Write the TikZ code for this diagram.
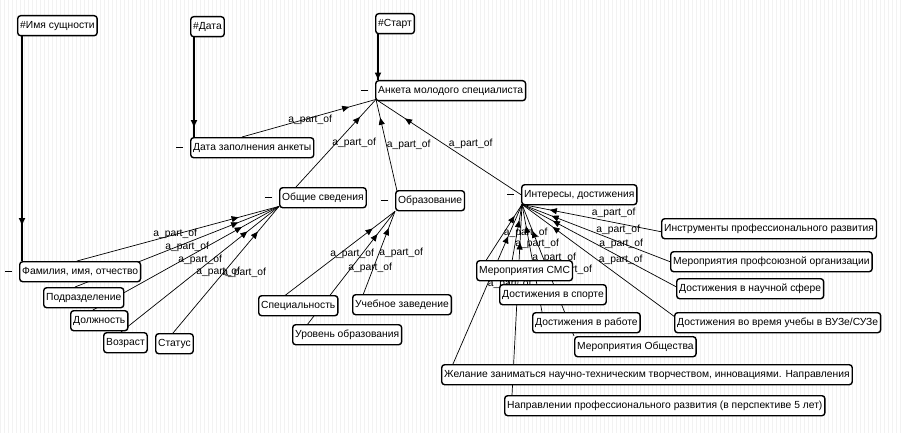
\documentclass[tikz,border=0pt]{standalone}
\usepackage{fontspec}
\setmainfont{Liberation Sans}
\usetikzlibrary{arrows.meta,decorations.markings,backgrounds,calc}

\begin{document}
\begin{tikzpicture}[x=1pt,y=-1pt,
	boite/.style={draw,line width=1.4pt,rounded corners=3pt,fill=white,anchor=north west,
		inner xsep=2.5pt,inner ysep=0pt,minimum height=20pt,font=\fontsize{10.3}{12}\selectfont},
	lien/.style={line width=0.7pt,decoration={markings,mark=at position #1 with {\arrow{Triangle[length=7pt,width=6pt]}}},postaction={decorate}},
	lien/.default=0.8,
	diese/.style={lien=#1,line width=1.6pt},
	lbl/.style={font=\fontsize{10.3}{12}\selectfont,inner sep=0pt,anchor=west,pos=0.5},
	moins/.style={line width=1.4pt}]
	\useasboundingbox (0,0) rectangle (901,433);
	% les noeuds
	\node[boite] (hname) at (17,15) {\#Имя сущности};
	\node[boite] (hdate) at (190,16) {\#Дата};
	\node[boite] (hstart) at (375,13) {\#Старт};
	\node[boite] (anketa) at (375,80) {Анкета молодого специалиста};
	\node[boite] (datazap) at (190,137) {Дата заполнения анкеты};
	\node[boite] (obsh) at (279,187) {Общие сведения};
	\node[boite] (obraz) at (395,190) {Образование};
	\node[boite] (inter) at (521,184) {Интересы, достижения};
	\node[boite] (fio) at (19,261) {Фамилия, имя, отчество};
	\node[boite] (podr) at (43,287) {Подразделение};
	\node[boite] (dolzh) at (70,310) {Должность};
	\node[boite] (vozr) at (103,332) {Возраст};
	\node[boite] (status) at (155,333) {Статус};
	\node[boite] (spec) at (258,295) {Специальность};
	\node[boite] (uchzav) at (352,294) {Учебное заведение};
	\node[boite] (uroven) at (292,324) {Уровень образования};
	\node[boite] (instr) at (661,218) {Инструменты профессионального развития};
	\node[boite] (profs) at (670,251) {Мероприятия профсоюзной организации};
	\node[boite] (nauch) at (676,278) {Достижения в научной сфере};
	\node[boite] (ucheba) at (674,312) {Достижения во время учебы в ВУЗе/СУЗе};
	\node[boite] (sms) at (476,260) {Мероприятия СМС};
	\node[boite] (sport) at (499,284) {Достижения в спорте};
	\node[boite] (rabota) at (532,312) {Достижения в работе};
	\node[boite] (obshestvo) at (574,336) {Мероприятия Общества};
	\node[boite] (zhelanie) at (441,364) {Желание заниматься научно-техническим творчеством, инновациями. Направления};
	\node[boite] (napr) at (504,395) {Направлении профессионального развития (в перспективе 5 лет)};
	\foreach \n in {anketa,datazap,obsh,obraz,inter,fio}
		\draw[moins] ($(\n.west)+(-7,0)$) -- ++(-7,0); % les signes moins
	\begin{scope}[on background layer]
	\draw[gray!10,line width=0.4pt,step=4] (0,0) grid (901,433); % la grille
	\draw[diese=0.84] ($(hname.south west)+(5,0)$) -- ($(fio.north west)+(3,0)$);
	\draw[diese=0.9] ($(hdate.south west)+(4,0)$) -- ($(datazap.north west)+(4,0)$);
	\draw[diese=0.99] ($(hstart.south west)+(3,0)$) -- ($(anketa.north west)+(3,0)$);
	% vers l'anketa
	\draw[lien] ($(datazap.north west)+(52,0)$) -- node[lbl,xshift=-21,yshift=-2]{a\_part\_of} ($(anketa.south west)+(1,-2)$);
	\draw[lien] ($(obsh.north west)+(17,0)$) -- node[lbl,xshift=-4]{a\_part\_of} ($(anketa.south west)+(1,-2)$);
	\draw[lien] ($(obraz.north west)+(2,1)$) -- node[lbl]{a\_part\_of} ($(anketa.south west)+(1,-2)$);
	\draw[lien] (inter.west) -- node[lbl,yshift=3]{a\_part\_of} ($(anketa.south west)+(1,-2)$);
	% vers les informations generales
	\draw[lien] ($(fio.north west)+(58,0)$) -- node[lbl,xshift=-25]{a\_part\_of} ($(obsh.south west)+(0,-2)$);
	\draw[lien] ($(podr.north west)+(32,0)$) -- node[lbl,xshift=-12]{a\_part\_of} ($(obsh.south west)+(0,-2)$);
	\draw[lien] ($(dolzh.north west)+(23,0)$) -- node[lbl,xshift=-8,yshift=-2]{a\_part\_of} ($(obsh.south west)+(0,-2)$);
	\draw[lien] ($(vozr.north west)+(18,0)$) -- node[lbl,xshift=-4,yshift=-3]{a\_part\_of} ($(obsh.south west)+(0,-2)$);
	\draw[lien] ($(status.north west)+(18,0)$) -- node[lbl,xshift=-4,yshift=-3]{a\_part\_of} ($(obsh.south west)+(0,-2)$);
	% vers l'education
	\draw[lien] ($(spec.north west)+(25,2)$) -- node[lbl,xshift=-9]{a\_part\_of} (obraz.south west);
	\draw[lien] ($(uroven.north west)+(15,1)$) -- node[lbl,xshift=-3]{a\_part\_of} (obraz.south west);
	\draw[lien] ($(uchzav.north west)+(11,1)$) -- node[lbl]{a\_part\_of} (obraz.south west);
	% vers les interets
	\draw[lien] ($(instr.west)+(0,3)$) -- node[lbl,yshift=5]{a\_part\_of} ($(inter.south west)+(1,-1)$);
	\draw[lien] (profs.west) -- node[lbl,yshift=3]{a\_part\_of} ($(inter.south west)+(1,-1)$);
	\draw[lien] ($(nauch.west)+(0,-2)$) -- node[lbl,yshift=2]{a\_part\_of} ($(inter.south west)+(1,-1)$);
	\draw[lien] ($(ucheba.north west)+(1,5)$) -- node[lbl,yshift=1]{a\_part\_of} ($(inter.south west)+(1,-1)$);
	\draw[lien] ($(sms.north west)+(9,2)$) -- node[lbl]{a\_part\_of} ($(inter.south west)+(1,-1)$);
	\draw[lien] ($(sport.north west)+(9,0)$) -- node[lbl]{a\_part\_of} ($(inter.south west)+(1,-1)$);
	\draw[lien] ($(rabota.north west)+(10,0)$) -- node[lbl]{a\_part\_of} ($(inter.south west)+(1,-1)$);
	\draw[lien] (obshestvo.north west) -- node[lbl]{a\_part\_of} ($(inter.south west)+(1,-1)$);
	\draw[lien] ($(zhelanie.north west)+(12,0)$) -- node[lbl]{a\_part\_of} ($(inter.south west)+(1,-1)$);
	\draw[lien] ($(napr.north west)+(8,0)$) -- node[lbl]{a\_part\_of} ($(inter.south west)+(1,-1)$);
	\end{scope}
\end{tikzpicture}
\end{document}
